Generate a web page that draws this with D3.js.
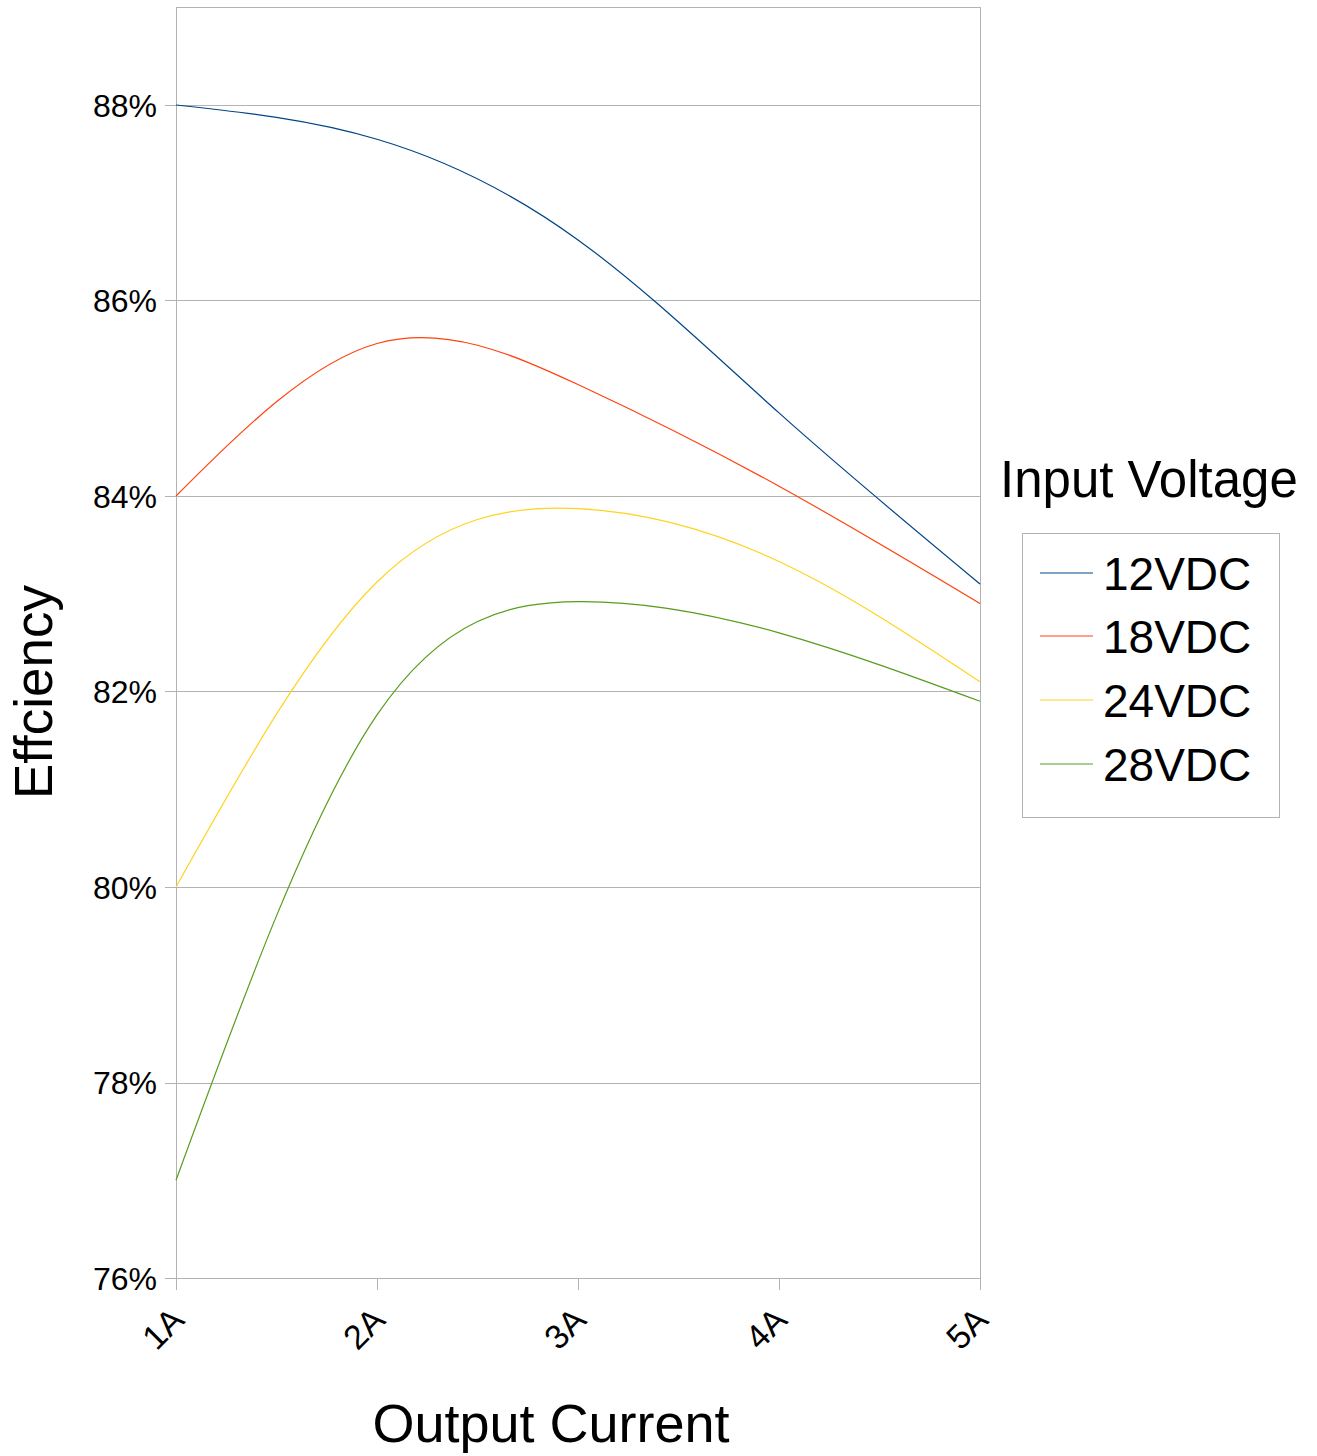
<!DOCTYPE html>
<html>
<head>
<meta charset="utf-8">
<script src="https://cdn.jsdelivr.net/npm/d3@7"></script>
<style>
  html, body { margin: 0; padding: 0; background: #fff; }
  svg { display: block; font-family: "Liberation Sans", Arial, sans-serif; }
</style>
</head>
<body>
<svg id="chart" width="1317" height="1456"></svg>
<script>
const currents = ["1A", "2A", "3A", "4A", "5A"];
const seriesNames = ["12VDC", "18VDC", "24VDC", "28VDC"];
const v12 = [88, 87.65, 86.62, 84.85, 83.1];
const v18 = [84, 85.56, 85.14, 84.1, 82.9];
const v24 = [80, 83.12, 83.87, 83.33, 82.1];
const v28 = [77, 81.76, 82.92, 82.6, 81.9];
const yTicks = [76, 78, 80, 82, 84, 86, 88];
const colors = ["#004586", "#ff420e", "#ffd320", "#579d1c"];

const series = [v12, v18, v24, v28];

const svg = d3.select("#chart");
const plotL = 176, plotR = 980, plotT = 7.25, plotB = 1278;

const x = d3.scalePoint().domain(currents).range([plotL, plotR]).padding(0);
const y = d3.scaleLinear().domain([76, 89]).range([plotB, plotT]);

const gridColor = "#b3b3b3";

// gridlines
svg.append("g").selectAll("line").data(yTicks).join("line")
  .attr("x1", plotL - 11).attr("x2", plotR)
  .attr("y1", d => Math.round(y(d)) + 0.5).attr("y2", d => Math.round(y(d)) + 0.5)
  .attr("stroke", gridColor).attr("stroke-width", 1);

// frame
svg.append("rect")
  .attr("x", plotL + 0.5).attr("y", Math.round(plotT) + 0.5)
  .attr("width", plotR - plotL).attr("height", plotB - Math.round(plotT))
  .attr("fill", "none").attr("stroke", gridColor).attr("stroke-width", 1);

// x ticks
svg.append("g").selectAll("line").data(currents).join("line")
  .attr("x1", d => Math.round(x(d)) + 0.5).attr("x2", d => Math.round(x(d)) + 0.5)
  .attr("y1", plotB).attr("y2", plotB + 12)
  .attr("stroke", gridColor).attr("stroke-width", 1);

// y tick labels
svg.append("g").selectAll("text").data(yTicks).join("text")
  .attr("x", 157).attr("y", d => y(d))
  .attr("dy", "0.36em")
  .attr("text-anchor", "end")
  .attr("font-size", 32)
  .attr("fill", "#000")
  .text(d => d + "%");

// x tick labels (rotated)
svg.append("g").selectAll("text").data(currents).join("text")
  .attr("transform", d => `translate(${x(d) + 10},${plotB + 44}) rotate(-45)`)
  .attr("text-anchor", "end")
  .attr("font-size", 34)
  .attr("fill", "#000")
  .text(d => d);

// lines
const line = d3.line()
  .x((d, i) => x(currents[i]))
  .y(d => y(d))
  .curve(d3.curveNatural);

svg.append("g").selectAll("path").data(series).join("path")
  .attr("d", d => line(d))
  .attr("fill", "none")
  .attr("stroke", (d, i) => colors[i])
  .attr("stroke-width", 1.2);

// axis titles
svg.append("text")
  .attr("x", 551).attr("y", 1442)
  .attr("text-anchor", "middle")
  .attr("font-size", 54)
  .attr("fill", "#000")
  .text("Output Current");

svg.append("text")
  .attr("transform", `translate(52,692) rotate(-90)`)
  .attr("text-anchor", "middle")
  .attr("font-size", 53)
  .attr("fill", "#000")
  .text("Effciency");

// legend
svg.append("text")
  .attr("x", 1000).attr("y", 497)
  .attr("font-size", 51)
  .attr("fill", "#000")
  .text("Input Voltage");

svg.append("rect")
  .attr("x", 1022.5).attr("y", 533.5)
  .attr("width", 257).attr("height", 284)
  .attr("fill", "#fff").attr("stroke", gridColor).attr("stroke-width", 1);

const legY = [573, 636, 700, 764];
const lg = svg.append("g").selectAll("g").data(seriesNames).join("g");
lg.append("line")
  .attr("x1", 1040).attr("x2", 1093)
  .attr("y1", (d, i) => legY[i]).attr("y2", (d, i) => legY[i])
  .attr("stroke", (d, i) => colors[i]).attr("stroke-width", 1.2);
lg.append("text")
  .attr("x", 1103).attr("y", (d, i) => legY[i])
  .attr("dy", "0.36em")
  .attr("font-size", 46)
  .attr("fill", "#000")
  .text(d => d);
</script>
</body>
</html>
